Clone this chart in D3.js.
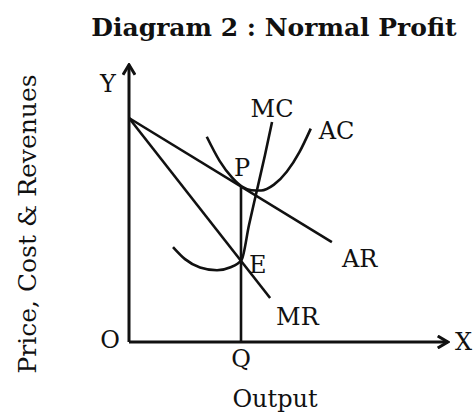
<!DOCTYPE html>
<html>
<head>
<meta charset="utf-8">
<script src="https://cdn.jsdelivr.net/npm/d3@7"></script>
<style>
  body { margin: 0; background: #fff; }
  text { font-family: "DejaVu Serif", serif; fill: #111; }
</style>
</head>
<body>
<div id="chart"></div>
<script>
/* Monopoly equilibrium - normal profit (AR tangent to AC) */

// curve points, in abstract units (0..100)
const arPoints = [[0, 80], [63.4, 35.7]];
const mrPoints = [[0, 80], [44.1, 15.7]];
const acPoints = [[24.3, 73.3], [28.3, 64.7], [32.3, 58.6], [35.3, 55.5], [38.3, 54.2],
  [41.3, 54.1], [45.3, 56.2], [49.3, 60.8], [53.3, 67.9], [56.8, 76.2]];
const mcPoints = [[13.75, 33.9], [17.5, 29.6], [22.2, 26.6], [27.5, 25.6], [31.5, 26.6],
  [35.2, 29.4], [37.5, 41.8], [40, 54.3], [42.5, 66.8], [44.7, 78.6]];
const outputQ = 35;
const priceP = 55.5;
const curveNames = ["AR", "MR", "AC", "MC"];

const width = 475,
  height = 417;

const x = d3.scaleLinear().domain([0, 100]).range([129, 449]);
const y = d3.scaleLinear().domain([0, 100]).range([342, 62]);

const svg = d3.select("#chart")
  .append("svg")
  .attr("width", width)
  .attr("height", height);

const defs = svg.append("defs");
defs.append("marker")
  .attr("id", "arrow")
  .attr("viewBox", "0 0 14 14")
  .attr("refX", 12)
  .attr("refY", 7)
  .attr("markerWidth", 14)
  .attr("markerHeight", 14)
  .attr("markerUnits", "userSpaceOnUse")
  .attr("orient", "auto")
  .append("path")
  .attr("d", "M2,1 L12,7 L2,13")
  .attr("fill", "none")
  .attr("stroke", "#111")
  .attr("stroke-width", 3)
  .attr("stroke-linejoin", "miter");

const line = d3.line().x(d => x(d[0])).y(d => y(d[1]));
const smooth = d3.line().x(d => x(d[0])).y(d => y(d[1])).curve(d3.curveMonotoneX);

// axes
svg.append("path")
  .attr("d", line([[0, 0], [0, 99]]))
  .attr("stroke", "#111")
  .attr("stroke-width", 3)
  .attr("fill", "none")
  .attr("marker-end", "url(#arrow)");

svg.append("path")
  .attr("d", line([[0, 0], [99.6, 0]]))
  .attr("stroke", "#111")
  .attr("stroke-width", 3)
  .attr("fill", "none")
  .attr("marker-end", "url(#arrow)");

// curves
const curves = [arPoints, mrPoints, acPoints, mcPoints];
svg.append("g")
  .attr("fill", "none")
  .attr("stroke", "#111")
  .attr("stroke-width", 2.6)
  .selectAll("path")
  .data(curves)
  .join("path")
  .attr("d", (d, i) => i < 2 ? line(d) : smooth(d));

// PQ vertical
svg.append("path")
  .attr("d", line([[outputQ, 0], [outputQ, priceP]]))
  .attr("stroke", "#111")
  .attr("stroke-width", 2.6);

// curve labels, anchored at curve ends
const last = a => a[a.length - 1];
const labels = [
  {t: curveNames[0], p: last(arPoints), dx: 10, dy: 25, a: "start"},
  {t: curveNames[1], p: last(mrPoints), dx: 6, dy: 27, a: "start"},
  {t: curveNames[2], p: last(acPoints), dx: 8, dy: 10, a: "start"},
  {t: curveNames[3], p: last(mcPoints), dx: 0, dy: -5, a: "middle"},
  {t: "P", p: [outputQ, priceP], dx: 1, dy: -11, a: "middle"},
  {t: "E", p: [outputQ, 29], dx: 8, dy: 12, a: "start"},
  {t: "Q", p: [outputQ, 0], dx: 0, dy: 25, a: "middle"},
  {t: "O", p: [0, 0], dx: -19, dy: 6, a: "middle"},
  {t: "Y", p: [0, 100], dx: -21, dy: 30, a: "middle"},
  {t: "X", p: [100, 0], dx: 6, dy: 8, a: "start"}
];

svg.append("g")
  .attr("font-size", 24)
  .selectAll("text")
  .data(labels)
  .join("text")
  .attr("x", d => x(d.p[0]) + d.dx)
  .attr("y", d => y(d.p[1]) + d.dy)
  .attr("text-anchor", d => d.a)
  .text(d => d.t);

svg.append("text")
  .attr("x", 275)
  .attr("y", 407)
  .attr("text-anchor", "middle")
  .attr("font-size", 24)
  .text("Output");

svg.append("text")
  .attr("transform", "translate(36,224) rotate(-90)")
  .attr("text-anchor", "middle")
  .attr("font-size", 25)
  .text("Price, Cost & Revenues");

svg.append("text")
  .attr("x", 274)
  .attr("y", 36)
  .attr("text-anchor", "middle")
  .attr("font-size", 25)
  .attr("font-weight", "bold")
  .text("Diagram 2 : Normal Profit");
</script>
</body>
</html>
